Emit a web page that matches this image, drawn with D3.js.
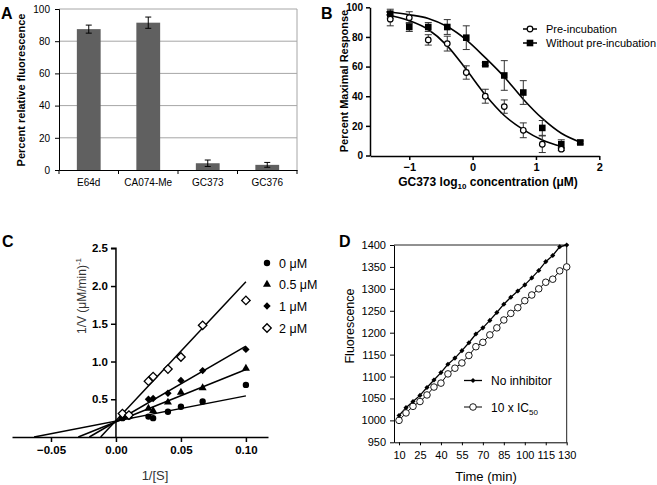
<!DOCTYPE html>
<html>
<head>
<meta charset="utf-8">
<script src="https://cdn.jsdelivr.net/npm/d3@7"></script>
<style>
  body { margin: 0; background: #fff; }
  svg { font-family: Arial, "Liberation Sans", sans-serif; }
  .domain { stroke: #000; }
</style>
</head>
<body>
<div id="chart"></div>
<script>
// ---- panel A data
const catsA = ["E64d", "CA074-Me", "GC373", "GC376"]
const valsA = [87.5, 91.5, 4.2, 3.2]
const errA = [2.5, 3.5, 2.0, 1.5]
const ticksA = [0, 20, 40, 60, 80, 100]

// ---- panel B data
const logConc = [-1.3, -1, -0.7, -0.4, -0.1, 0.2, 0.5, 0.8, 1.1, 1.4]
const preMean = [92, 93, 78, 75.5, 56, 40, 33, 17, 7.6, 4.3]
const preErr = [4.5, 4, 3.5, 5, 4.5, 4.7, 4.5, 5, 5.6, 1]
const logConcNo = [-1.3, -1, -0.7, -0.4, -0.1, 0.2, 0.5, 0.8, 1.1, 1.4, 1.7]
const noMean = [95.7, 86.7, 86.7, 86.7, 79.5, 61.6, 54, 42.5, 18.6, 7.6, 8.8]
const noErr = [3, 3, 3, 5, 8, 1, 10, 8, 5, 3, 1]
// fitted curves
const preFitX = [-1.36, -1, -0.7, -0.4, -0.1, 0.2, 0.5, 0.8, 1.1, 1.4]
const preFitY = [95, 91, 85, 74, 58, 41, 27, 17.5, 10.5, 6]
const noFitX = [-1.36, -1, -0.7, -0.4, -0.1, 0.2, 0.5, 0.8, 1.1, 1.4, 1.7]
const noFitY = [97, 95, 92.5, 87, 78, 66, 53, 38, 25, 15, 9]
const ticksBx = [-1, 0, 1, 2]
const ticksBy = [0, 20, 40, 60, 80, 100]

// ---- panel C data
const invS = [0.005, 0.01, 0.025, 0.0286, 0.04, 0.05, 0.0667, 0.1]
const inhibLabels = ["0 μM", "0.5 μM", "1 μM", "2 μM"]
const c0 = [0.25, 0.27, 0.27, 0.25, 0.335, 0.40, 0.47, 0.69]
const c05 = [0.26, 0.28, 0.38, 0.35, 0.46, 0.59, 0.65, 0.91]
const c1 = [0.27, 0.30, 0.50, 0.51, 0.58, 0.75, 0.88, 1.16]
const c2 = [0.31, 0.29, 0.74, 0.80, 0.90, 1.06, 1.48, 1.81]
// regression lines: [x-intercept, y at 1/[S]=0.1]
const lineStartX = [-0.063, -0.029, -0.0205, -0.0118]
const lineEndY = [0.545, 0.895, 1.205, 2.057]
const ticksCx = [-0.05, 0, 0.05, 0.1]
const ticksCy = [0.5, 1.0, 1.5, 2.0, 2.5]

// ---- panel D data
const timeMin = [10, 15, 20, 25, 30, 35, 40, 45, 50, 55, 60, 65, 70, 75, 80, 85, 90, 95, 100, 105, 110, 115, 120, 125, 130]
const noInhib = [1011, 1029, 1043, 1057, 1075, 1092, 1109, 1128, 1142, 1159, 1177, 1197, 1211, 1228, 1246, 1265, 1281, 1295, 1309, 1325, 1342, 1362, 1376, 1396, 1400]
const tenIC50 = [1000, 1017, 1032, 1043, 1058, 1076, 1085, 1106, 1119, 1131, 1148, 1168, 1178, 1195, 1211, 1229, 1244, 1257, 1273, 1286, 1300, 1315, 1322, 1341, 1350]
const ticksDx = [10, 25, 40, 55, 70, 85, 100, 115, 130]
const ticksDy = [950, 1000, 1050, 1100, 1150, 1200, 1250, 1300, 1350, 1400]

const width = 657
const height = 485

const svg = d3.select("#chart").append("svg").attr("width", width).attr("height", height)

function panelLetter(t, x, y) {
    svg.append("text").attr("x", x).attr("y", y).attr("font-size", 16).attr("font-weight", "bold").text(t)
}

// =================== A
const gA = svg.append("g").attr("id", "panelA")
const xA = d3.scaleBand().domain(catsA).range([59, 297]).paddingInner(0.6).paddingOuter(0.3)
const yA = d3.scaleLinear().domain([0, 100]).range([170, 9])

gA.selectAll(".grid").data(ticksA.slice(1)).enter().append("line")
    .attr("x1", 59).attr("x2", 297)
    .attr("y1", d => yA(d)).attr("y2", d => yA(d))
    .attr("stroke", "#a6a6a6").attr("stroke-width", 1)
gA.append("line").attr("x1", 297).attr("x2", 297).attr("y1", yA(100)).attr("y2", yA(0))
    .attr("stroke", "#a6a6a6")

gA.selectAll("rect").data(catsA).enter().append("rect")
    .attr("x", d => xA(d)).attr("width", xA.bandwidth())
    .attr("y", (d, i) => yA(valsA[i]))
    .attr("height", (d, i) => yA(0) - yA(valsA[i]))
    .attr("fill", "#606060")

const errGA = gA.selectAll(".err").data(catsA).enter().append("g")
errGA.append("line")
    .attr("x1", d => xA(d) + xA.bandwidth() / 2).attr("x2", d => xA(d) + xA.bandwidth() / 2)
    .attr("y1", (d, i) => yA(valsA[i] + errA[i])).attr("y2", (d, i) => yA(valsA[i] - errA[i]))
    .attr("stroke", "#000")
errGA.selectAll(".cap").data((d, i) => [[d, valsA[i] + errA[i]], [d, valsA[i] - errA[i]]]).enter().append("line")
    .attr("x1", d => xA(d[0]) + xA.bandwidth() / 2 - 3).attr("x2", d => xA(d[0]) + xA.bandwidth() / 2 + 3)
    .attr("y1", d => yA(d[1])).attr("y2", d => yA(d[1]))
    .attr("stroke", "#000")

const yAxisA = gA.append("g").attr("transform", "translate(59,0)")
    .call(d3.axisLeft(yA).tickValues(ticksA).tickSize(4).tickPadding(5))
yAxisA.selectAll("text").attr("font-size", 10).attr("font-family", "Arial, sans-serif")
const xAxisA = gA.append("g").attr("transform", "translate(0,170)")
    .call(d3.axisBottom(xA).tickSize(0).tickPadding(9).tickSizeOuter(0))
xAxisA.selectAll("text").attr("font-size", 10).attr("font-family", "Arial, sans-serif")
gA.selectAll(".bnd").data(d3.range(catsA.length + 1)).enter().append("line")
    .attr("x1", i => 59 + i * xA.step()).attr("x2", i => 59 + i * xA.step())
    .attr("y1", 170).attr("y2", 174).attr("stroke", "#000")

gA.append("text").attr("transform", "translate(25,90) rotate(-90)")
    .attr("text-anchor", "middle").attr("font-size", 11).attr("font-weight", "bold")
    .text("Percent relative fluorescence")
panelLetter("A", 1, 19)

// =================== B
const gB = svg.append("g").attr("id", "panelB")
const xB = d3.scaleLinear().domain([-1.62, 2]).range([370, 599.3])
const yB = d3.scaleLinear().domain([0, 100]).range([155.5, 7.3])

const fitLine = d3.line().x(d => xB(d[0])).y(d => yB(d[1])).curve(d3.curveMonotoneX)
gB.append("path").datum(preFitX.map((x, i) => [x, preFitY[i]]))
    .attr("d", fitLine).attr("fill", "none").attr("stroke", "#000").attr("stroke-width", 1.6)
gB.append("path").datum(noFitX.map((x, i) => [x, noFitY[i]]))
    .attr("d", fitLine).attr("fill", "none").attr("stroke", "#000").attr("stroke-width", 1.6)

function errBars(g, xs, ms, es) {
    const eb = g.append("g").attr("stroke", "#333").attr("stroke-width", 1)
    xs.forEach((x, i) => {
        eb.append("line").attr("x1", xB(x)).attr("x2", xB(x)).attr("y1", yB(ms[i] + es[i])).attr("y2", yB(ms[i] - es[i]))
        eb.append("line").attr("x1", xB(x) - 3.5).attr("x2", xB(x) + 3.5).attr("y1", yB(ms[i] + es[i])).attr("y2", yB(ms[i] + es[i]))
        eb.append("line").attr("x1", xB(x) - 3.5).attr("x2", xB(x) + 3.5).attr("y1", yB(ms[i] - es[i])).attr("y2", yB(ms[i] - es[i]))
    })
}
errBars(gB, logConc, preMean, preErr)
errBars(gB, logConcNo, noMean, noErr)

gB.selectAll(".sq").data(logConcNo).enter().append("rect")
    .attr("x", d => xB(d) - 3.3).attr("y", (d, i) => yB(noMean[i]) - 3.3)
    .attr("width", 6.6).attr("height", 6.6).attr("fill", "#000")
gB.selectAll(".ci").data(logConc).enter().append("circle")
    .attr("cx", d => xB(d)).attr("cy", (d, i) => yB(preMean[i])).attr("r", 2.8)
    .attr("fill", "#fff").attr("stroke", "#000").attr("stroke-width", 1.2)

const yAxisB = gB.append("g").attr("transform", "translate(370,0)")
    .call(d3.axisLeft(yB).tickValues(ticksBy).tickSize(4).tickPadding(3).tickSizeOuter(0))
yAxisB.selectAll("text").attr("font-size", 10).attr("font-weight", "bold").attr("font-family", "Arial, sans-serif")
const xAxisB = gB.append("g").attr("transform", "translate(0,156)")
    .call(d3.axisBottom(xB).tickValues(ticksBx).tickSize(4).tickPadding(3).tickSizeOuter(0).tickFormat(d3.format("d")))
xAxisB.selectAll("text").attr("font-size", 11).attr("font-weight", "bold").attr("font-family", "Arial, sans-serif")
gB.selectAll(".domain").attr("stroke-width", 1.5)
gB.selectAll(".tick line").attr("stroke-width", 1.5)

gB.append("text").attr("transform", "translate(348,81) rotate(-90)")
    .attr("text-anchor", "middle").attr("font-size", 11).attr("font-weight", "bold")
    .text("Percent Maximal Response")
const xtB = gB.append("text").attr("x", 488).attr("y", 186).attr("text-anchor", "middle")
    .attr("font-size", 12).attr("font-weight", "bold")
xtB.append("tspan").text("GC373 log")
xtB.append("tspan").attr("font-size", 8).attr("dy", 3).text("10")
xtB.append("tspan").attr("dy", -3).text(" concentration (μM)")

// legend B
const legB = gB.append("g")
legB.append("line").attr("x1", 523).attr("x2", 537).attr("y1", 29).attr("y2", 29).attr("stroke", "#000").attr("stroke-width", 1.5)
legB.append("circle").attr("cx", 530).attr("cy", 29).attr("r", 2.8).attr("fill", "#fff").attr("stroke", "#000").attr("stroke-width", 1.2)
legB.append("text").attr("x", 546).attr("y", 33).attr("font-size", 11).text("Pre-incubation")
legB.append("line").attr("x1", 523).attr("x2", 537).attr("y1", 43).attr("y2", 43).attr("stroke", "#000").attr("stroke-width", 1.5)
legB.append("rect").attr("x", 526.7).attr("y", 39.7).attr("width", 6.6).attr("height", 6.6).attr("fill", "#000")
legB.append("text").attr("x", 546).attr("y", 47).attr("font-size", 11).text("Without pre-incubation")
panelLetter("B", 321, 19)

// =================== C
const gC = svg.append("g").attr("id", "panelC")
const xC = d3.scaleLinear().domain([-0.08, 0.117]).range([12, 268])
const yC = d3.scaleLinear().domain([0, 2.5]).range([437, 248.3])
const seriesC = [c0, c05, c1, c2]

seriesC.forEach((s, k) => {
    gC.append("line")
        .attr("x1", xC(lineStartX[k])).attr("y1", yC(0))
        .attr("x2", xC(0.1)).attr("y2", yC(lineEndY[k]))
        .attr("stroke", "#000").attr("stroke-width", 1.5)
})

// circle, triangle, diamond (rotated square), open diamond
const symC = [d3.symbolCircle, d3.symbolTriangle, d3.symbolSquare, d3.symbolSquare]
const sizeC = [32, 28, 27, 36]
const rotC = [0, 0, 45, 45]
const fillC = ["#000", "#000", "#000", "#fff"]
function drawSymC(g, k, x, y) {
    g.append("path").attr("d", d3.symbol().type(symC[k]).size(sizeC[k])())
        .attr("transform", `translate(${x},${y}) rotate(${rotC[k]})`)
        .attr("fill", fillC[k]).attr("stroke", k === 3 ? "#000" : "none").attr("stroke-width", 1.3)
}
seriesC.forEach((s, k) => {
    s.forEach((v, i) => drawSymC(gC, k, xC(invS[i]), yC(v)))
})

const yAxisC = gC.append("g").attr("transform", `translate(${xC(0)},0)`)
    .call(d3.axisLeft(yC).tickValues(ticksCy).tickSize(5).tickPadding(3).tickSizeOuter(0).tickFormat(d3.format(".1f")))
yAxisC.selectAll("text").attr("font-size", 11.5).attr("font-weight", "bold").attr("font-family", "Arial, sans-serif")
yAxisC.select(".domain").attr("d", `M-5,${yC(2.5)}H0V${yC(0)}`)
const xAxisC = gC.append("g").attr("transform", `translate(0,${yC(0)})`)
    .call(d3.axisBottom(xC).tickValues(ticksCx).tickSize(5).tickPadding(4).tickSizeOuter(0).tickFormat(d3.format(".2f")))
xAxisC.selectAll("text").attr("font-size", 11.5).attr("font-weight", "bold").attr("font-family", "Arial, sans-serif")
gC.selectAll(".domain").attr("stroke-width", 1.5)
gC.selectAll(".tick line").attr("stroke-width", 1.5)

const ytC = gC.append("text").attr("transform", "translate(86,296) rotate(-90)")
    .attr("text-anchor", "middle").attr("font-size", 12).attr("fill", "#333")
ytC.append("tspan").text("1/V (μM/min)")
ytC.append("tspan").attr("font-size", 8).attr("dy", -5).text("-1")
gC.append("text").attr("x", 155).attr("y", 480).attr("text-anchor", "middle").attr("font-size", 13).attr("fill", "#333").text("1/[S]")

const legYC = [263, 284.5, 306, 328]
inhibLabels.forEach((t, k) => {
    drawSymC(gC, k, 267, legYC[k])
    gC.append("text").attr("x", 279).attr("y", legYC[k] + 4.5).attr("font-size", 12.5).text(t)
})
panelLetter("C", 2, 247)

// =================== D
const gD = svg.append("g").attr("id", "panelD")
const xD = d3.scaleLinear().domain([6.4, 130]).range([394, 566.7])
const yD = d3.scaleLinear().domain([950, 1400]).range([442.3, 245])

gD.append("line").attr("x1", 394).attr("x2", 566.7).attr("y1", 245).attr("y2", 245).attr("stroke", "#222")
gD.append("line").attr("x1", 566.7).attr("x2", 566.7).attr("y1", 245).attr("y2", 442.3).attr("stroke", "#222")

const lineD = d3.line().x((d, i) => xD(timeMin[i])).y(d => yD(d))
gD.append("path").datum(tenIC50).attr("d", lineD).attr("fill", "none").attr("stroke", "#000").attr("stroke-width", 1)
gD.append("path").datum(noInhib).attr("d", lineD).attr("fill", "none").attr("stroke", "#000").attr("stroke-width", 1.3)
gD.selectAll(".oc").data(tenIC50).enter().append("circle")
    .attr("cx", (d, i) => xD(timeMin[i])).attr("cy", d => yD(d)).attr("r", 3.3)
    .attr("fill", "#fff").attr("stroke", "#000").attr("stroke-width", 0.9)
gD.selectAll(".fd").data(noInhib).enter().append("path")
    .attr("d", d3.symbol().type(d3.symbolSquare).size(13)())
    .attr("transform", (d, i) => `translate(${xD(timeMin[i])},${yD(d)}) rotate(45)`)
    .attr("fill", "#000")

const yAxisD = gD.append("g").attr("transform", "translate(394,0)")
    .call(d3.axisLeft(yD).tickValues(ticksDy).tickSize(4).tickPadding(4).tickSizeOuter(0).tickFormat(d3.format("d")))
yAxisD.selectAll("text").attr("font-size", 11).attr("font-family", "Arial, sans-serif")
const xAxisD = gD.append("g").attr("transform", "translate(0,442.3)")
    .call(d3.axisBottom(xD).tickValues(ticksDx).tickSize(3).tickPadding(6).tickSizeOuter(0).tickFormat(d3.format("d")))
xAxisD.selectAll("text").attr("font-size", 11).attr("font-family", "Arial, sans-serif")

gD.append("text").attr("transform", "translate(354,326) rotate(-90)")
    .attr("text-anchor", "middle").attr("font-size", 12.5).text("Fluorescence")
gD.append("text").attr("x", 486).attr("y", 481).attr("text-anchor", "middle").attr("font-size", 13).text("Time (min)")

// legend D
gD.append("line").attr("x1", 464).attr("x2", 482).attr("y1", 380.5).attr("y2", 380.5).attr("stroke", "#000").attr("stroke-width", 1.3)
gD.append("path").attr("d", d3.symbol().type(d3.symbolSquare).size(13)()).attr("transform", "translate(473,380.5) rotate(45)").attr("fill", "#000")
gD.append("text").attr("x", 491).attr("y", 385).attr("font-size", 12).text("No inhibitor")
gD.append("line").attr("x1", 464).attr("x2", 482).attr("y1", 407).attr("y2", 407).attr("stroke", "#000").attr("stroke-width", 1)
gD.append("circle").attr("cx", 473).attr("cy", 407).attr("r", 3.3).attr("fill", "#fff").attr("stroke", "#000").attr("stroke-width", 0.9)
const ltD = gD.append("text").attr("x", 491).attr("y", 411.5).attr("font-size", 12)
ltD.append("tspan").text("10 x IC")
ltD.append("tspan").attr("font-size", 8).attr("dy", 3).text("50")
panelLetter("D", 339, 247)
</script>
</body>
</html>
